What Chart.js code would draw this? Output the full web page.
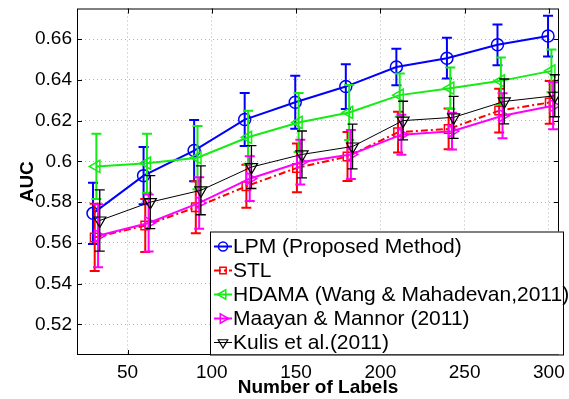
<!DOCTYPE html>
<html>
<head>
<meta charset="utf-8">
<script src="https://cdn.jsdelivr.net/npm/chart.js@4.4.1/dist/chart.umd.min.js"></script>
<style>
  html, body { margin: 0; padding: 0; background: #fff; }
</style>
</head>
<body>
<canvas id="aucChart" width="569" height="399"></canvas>
<script>
// number of labeled samples
const numLabels = [30, 60, 90, 120, 150, 180, 210, 240, 270, 300];

const lpm     = [0.5745, 0.5930, 0.6053, 0.6205, 0.6290, 0.6367, 0.6463, 0.6506, 0.6572, 0.6615];
const lpmErr  = [0.015, 0.014, 0.015, 0.013, 0.013, 0.011, 0.009, 0.010, 0.010, 0.010];
const stl     = [0.5627, 0.5685, 0.5775, 0.5878, 0.5968, 0.6024, 0.6143, 0.6159, 0.6249, 0.6289];
const stlErr  = [0.0165, 0.013, 0.0128, 0.0105, 0.012, 0.012, 0.010, 0.010, 0.0107, 0.0105];
const hdama   = [0.5975, 0.5991, 0.6018, 0.6118, 0.6191, 0.6240, 0.6325, 0.6359, 0.6395, 0.6444];
const hdamaErr = [0.016, 0.0145, 0.0155, 0.013, 0.0145, 0.0135, 0.0106, 0.0102, 0.0115, 0.0105];
const maayan  = [0.5635, 0.5698, 0.5796, 0.5915, 0.5996, 0.6034, 0.6131, 0.6148, 0.6224, 0.6273];
const maayanErr = [0.0155, 0.014, 0.0126, 0.011, 0.011, 0.012, 0.0098, 0.009, 0.011, 0.0115];
const kulis   = [0.5710, 0.5800, 0.5858, 0.5972, 0.6034, 0.6073, 0.6200, 0.6216, 0.6294, 0.6322];
const kulisErr = [0.015, 0.013, 0.012, 0.0105, 0.0115, 0.011, 0.0095, 0.0103, 0.011, 0.0103];

const xTicks = [50, 100, 150, 200, 250, 300];
const yTicks = [0.52, 0.54, 0.56, 0.58, 0.6, 0.62, 0.64, 0.66];
const yTickLabels = ["0.52", "0.54", "0.56", "0.58", "0.6", "0.62", "0.64", "0.66"];

const FONT = "'Liberation Sans', Arial, Helvetica, sans-serif";

function points(vals, shift) {
  return vals.map((v, i) => ({ x: numLabels[i] + shift, y: v }));
}

function series(label, vals, errs, color, shift, style, extra) {
  return Object.assign({
    label: label,
    data: points(vals, shift),
    errors: errs,
    borderColor: color,
    backgroundColor: color,
    borderWidth: 2,
    errWidth: 2,
    pointStyle: style.shape,
    pointRotation: style.rot || 0,
    pointRadius: style.r,
    pointBorderWidth: 1.5,
    pointBackgroundColor: 'rgba(0,0,0,0)',
    pointBorderColor: color,
    tension: 0,
    fill: false
  }, extra || {});
}

const datasets = [
  series('LPM (Proposed Method)', lpm, lpmErr, '#0000ff', -0.5, { shape: 'circle', r: 6 }, { order: 4 }),
  series('STL', stl, stlErr, '#ff0000', 0.5, { shape: 'rect', r: 6 }, { order: 3, borderDash: [7, 3, 2, 3] }),
  series('HDAMA (Wang & Mahadevan,2011)', hdama, hdamaErr, '#14ec14', 1.5, { shape: 'triangle', r: 7, rot: 270 }, { order: 2 }),
  series('Maayan & Mannor (2011)', maayan, maayanErr, '#ff00ff', 2.5, { shape: 'triangle', r: 7, rot: 90 }, { order: 1 }),
  series('Kulis et al.(2011)', kulis, kulisErr, '#000000', 3.5, { shape: 'triangle', r: 7, rot: 180 }, { order: 0, borderWidth: 1, errWidth: 1.3, pointBorderWidth: 1.2 })
];

const errorBars = {
  id: 'errorBars',
  beforeDatasetDraw(chart, args) {
    const ds = chart.data.datasets[args.index];
    const yScale = chart.scales.y;
    const ctx = chart.ctx;
    ctx.save();
    ctx.strokeStyle = ds.borderColor;
    ctx.lineWidth = ds.errWidth;
    ctx.setLineDash([]);
    args.meta.data.forEach((pt, i) => {
      const v = ds.data[i].y, e = ds.errors[i];
      const top = yScale.getPixelForValue(v + e);
      const bot = yScale.getPixelForValue(v - e);
      ctx.beginPath();
      ctx.moveTo(pt.x, top); ctx.lineTo(pt.x, bot);
      ctx.moveTo(pt.x - 5, top); ctx.lineTo(pt.x + 5, top);
      ctx.moveTo(pt.x - 5, bot); ctx.lineTo(pt.x + 5, bot);
      ctx.stroke();
    });
    ctx.restore();
  }
};

// box, inward ticks and the boxed legend, matlab style
const frameAndLegend = {
  id: 'frameAndLegend',
  afterDraw(chart) {
    const { ctx, chartArea: a, scales: { x, y } } = chart;
    ctx.save();
    ctx.strokeStyle = '#000';
    ctx.lineWidth = 1;
    ctx.setLineDash([]);
    ctx.strokeRect(a.left + 0.5, a.top + 0.5, a.width - 1, a.height - 1);
    ctx.beginPath();
    xTicks.forEach(v => {
      const px = Math.round(x.getPixelForValue(v)) + 0.5;
      ctx.moveTo(px, a.bottom); ctx.lineTo(px, a.bottom - 5);
      ctx.moveTo(px, a.top); ctx.lineTo(px, a.top + 5);
    });
    yTicks.forEach(v => {
      const py = Math.round(y.getPixelForValue(v)) + 0.5;
      ctx.moveTo(a.left, py); ctx.lineTo(a.left + 5, py);
      ctx.moveTo(a.right, py); ctx.lineTo(a.right - 5, py);
    });
    ctx.stroke();

    // legend
    const lx = a.left + 133, ly = a.top + 223, lw = 353, lh = 123;
    ctx.fillStyle = '#fff';
    ctx.fillRect(lx, ly, lw, lh);
    ctx.strokeRect(lx + 0.5, ly + 0.5, lw, lh);
    ctx.font = '21px ' + FONT;
    ctx.textBaseline = 'middle';
    chart.data.datasets.forEach((ds, i) => {
      const cy = ly + 15 + i * 24;
      ctx.save();
      ctx.strokeStyle = ds.borderColor;
      ctx.lineWidth = ds.borderWidth;
      ctx.setLineDash(ds.borderDash || []);
      ctx.beginPath();
      ctx.moveTo(lx + 4, cy); ctx.lineTo(lx + 22, cy);
      ctx.stroke();
      ctx.setLineDash([]);
      ctx.fillStyle = 'rgba(0,0,0,0)';
      ctx.lineWidth = ds.pointBorderWidth;
      Chart.helpers.drawPoint(ctx, {
        pointStyle: ds.pointStyle,
        radius: ds.pointRadius - 1.5,
        rotation: ds.pointRotation,
        borderWidth: ds.pointBorderWidth
      }, lx + 13, cy);
      ctx.restore();
      ctx.fillStyle = '#000';
      ctx.fillText(ds.label, lx + 23, cy + 1);
    });
    ctx.restore();
  }
};

new Chart(document.getElementById('aucChart'), {
  type: 'line',
  data: { datasets: datasets },
  plugins: [errorBars, frameAndLegend],
  options: {
    responsive: false,
    animation: false,
    layout: { padding: { top: 7, right: 10, left: 0, bottom: 0 } },
    plugins: {
      legend: { display: false },
      tooltip: { enabled: false }
    },
    scales: {
      x: {
        type: 'linear',
        min: 20,
        max: 306,
        afterBuildTicks: s => { s.ticks = xTicks.map(v => ({ value: v })); },
        afterFit: s => { s.height = 44; s.paddingLeft = 0; s.paddingRight = 0; },
        ticks: { color: '#000', font: { family: FONT, size: 19 }, padding: 6, maxRotation: 0 },
        grid: { color: '#b4b4b4', lineWidth: 1, drawTicks: false },
        border: { display: false, dash: [1, 3] },
        title: {
          display: true,
          text: 'Number of Labels',
          color: '#000',
          font: { family: FONT, size: 19, weight: 'bold' },
          padding: { top: 0, bottom: 0 }
        }
      },
      y: {
        min: 0.505,
        max: 0.675,
        afterBuildTicks: s => { s.ticks = yTicks.map(v => ({ value: v })); },
        afterFit: s => { s.width = 77; s.paddingTop = 0; s.paddingBottom = 0; },
        ticks: {
          color: '#000',
          font: { family: FONT, size: 19 },
          padding: 5,
          callback: v => yTickLabels[yTicks.findIndex(t => Math.abs(t - v) < 1e-9)]
        },
        grid: { color: '#b4b4b4', lineWidth: 1, drawTicks: false },
        border: { display: false, dash: [1, 3] },
        title: {
          display: true,
          text: 'AUC',
          color: '#000',
          font: { family: FONT, size: 19, weight: 'bold' },
          padding: { top: 16, bottom: 0 }
        }
      }
    }
  }
});
</script>
</body>
</html>
